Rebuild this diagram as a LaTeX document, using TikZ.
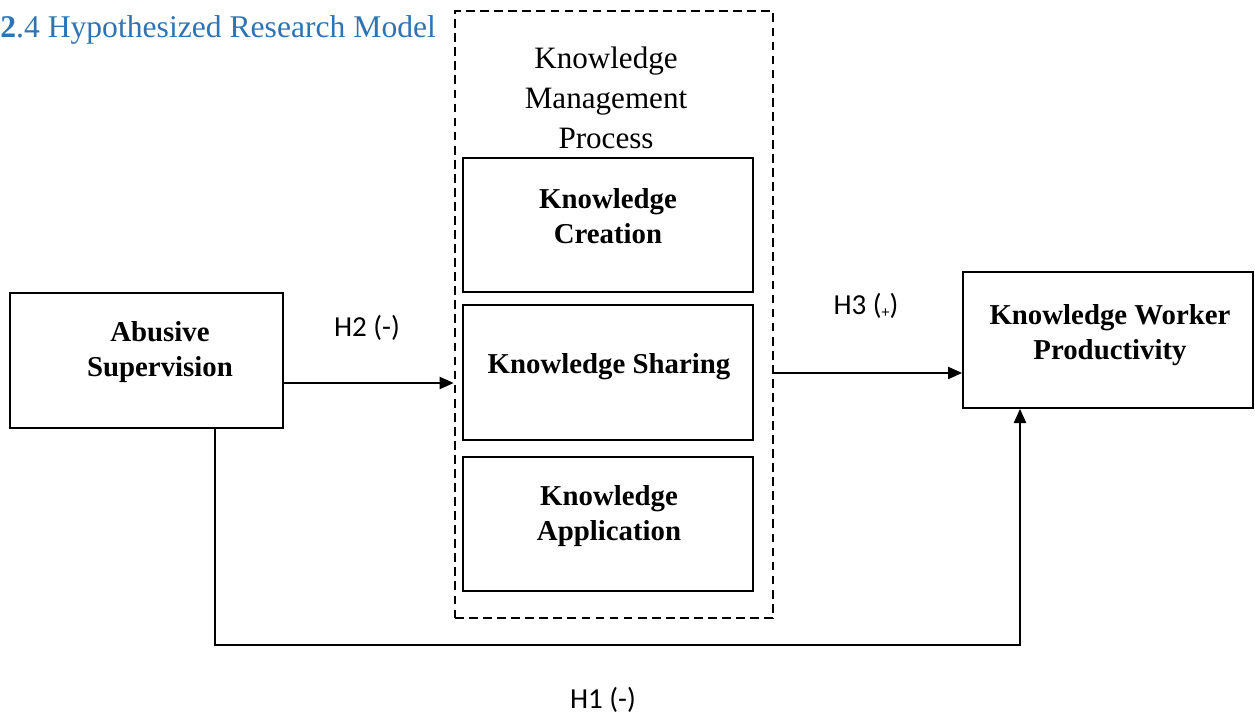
\documentclass[tikz,border=0pt]{standalone}
\usepackage{fontspec}
\setmainfont{Liberation Serif}
\newfontfamily\hfont{Carlito}
\usetikzlibrary{arrows.meta}
\definecolor{titleblue}{RGB}{46,116,181}

\begin{document}
\begin{tikzpicture}[x=0.02cm, y=-0.02cm, >={Triangle[length=8pt,width=7pt]},
  box/.style={draw, line width=1.1pt},
  boxtext/.style={align=center, font=\fontsize{16.4}{19.8}\selectfont\bfseries},
  dashbox/.style={draw, dash pattern=on 5pt off 3pt, line width=1.6pt},
  conn/.style={line width=0.75pt},
  hlabel/.style={font=\hfont\fontsize{16.5}{18}\selectfont}]
  \useasboundingbox (0,0) rectangle (1255,715);

  % 1. title
  \node[anchor=base west, inner sep=0pt, text=titleblue, font=\fontsize{18}{20}\selectfont] (title) at (0,38) {\textbf{2}.4 Hypothesized Research Model};

  % 2. knowledge management process (dashed frame)
  \node[dashbox, minimum width=6.36cm, minimum height=12.14cm] (kmp) at (614,314.5) {};
  \node[align=center, font=\fontsize{17.7}{22.7}\selectfont] (kmpText) at (606,98) {Knowledge\\Management\\Process};
  \node[box, minimum width=5.8cm, minimum height=2.68cm] (kc) at (608,225) {};
  \node[boxtext] (kcText) at (608,216) {Knowledge\\Creation};
  \node[box, minimum width=5.8cm, minimum height=2.7cm] (ks) at (608,372.5) {};
  \node[boxtext] (ksText) at (609,367) {Knowledge Sharing};
  \node[box, minimum width=5.8cm, minimum height=2.68cm] (ka) at (608,524) {};
  \node[boxtext] (kaText) at (609,516) {Knowledge\\Application};

  % 3. independent and dependent variables
  \node[box, minimum width=5.46cm, minimum height=2.7cm] (abs) at (146.5,360.5) {};
  \node[boxtext] (absText) at (160,352) {Abusive\\Supervision};
  \node[box, minimum width=5.8cm, minimum height=2.72cm] (kwp) at (1108,340) {};
  \node[boxtext] (kwpText) at (1110,335) {Knowledge Worker\\Productivity};

  % 4. hypotheses
  \coordinate (h2s) at (283,383);
  \draw[conn,->] (h2s) -- (h2s -| kmp.west);
  \coordinate (h3s) at (773,373);
  \draw[conn,->] (h3s) -- (h3s -| kwp.west);
  \coordinate (h1l) at (215,645);
  \coordinate (h1r) at (1020,645);
  \draw[conn,->] (h1l |- abs.south) -- (h1l) -- (h1r) -- (h1r |- kwp.south);

  \node[hlabel] (h2) at (367,328) {H2 (-)};
  \node[hlabel] (h3) at (866,306) {H3 (\raisebox{-1.5pt}{\fontsize{9}{9}\selectfont +})};
  \node[hlabel] (h1) at (603,700) {H1 (-)};
\end{tikzpicture}
\end{document}
